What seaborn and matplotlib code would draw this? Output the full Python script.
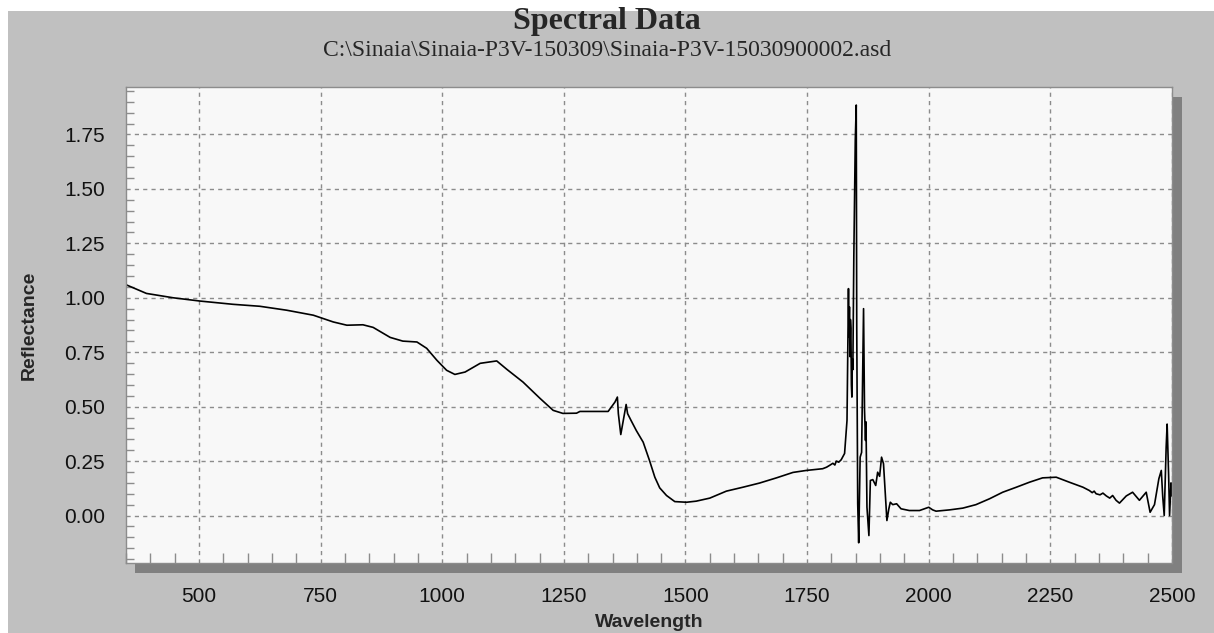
import numpy as np
import pandas as pd
import seaborn as sns
import matplotlib
matplotlib.use("Agg")
import matplotlib.pyplot as plt
from matplotlib.patches import Rectangle
from matplotlib.ticker import MultipleLocator, FormatStrFormatter

# spectrum
wavelength = [350, 392, 447, 502, 570, 625, 680, 735, 776, 804, 837, 858, 893, 919, 948,
              968, 989, 1009, 1026, 1047, 1078, 1112, 1133, 1166, 1201, 1228, 1248, 1276,
              1283, 1341, 1355, 1360, 1362, 1367, 1374, 1378, 1381, 1388, 1399, 1413, 1426,
              1437, 1447, 1461, 1478, 1502, 1522, 1550, 1584, 1618, 1652, 1687, 1721, 1748,
              1782, 1790, 1796, 1803, 1807, 1810, 1815, 1820, 1827, 1832, 1835, 1836, 1837,
              1838, 1839, 1840, 1841, 1842, 1843, 1844, 1846, 1849, 1851, 1852, 1854, 1856,
              1859, 1862, 1866, 1868, 1870, 1871, 1873, 1877, 1880, 1885, 1891, 1895, 1899,
              1903, 1907, 1911, 1914, 1918, 1921, 1926, 1934, 1943, 1960, 1981, 2000, 2008,
              2015, 2043, 2070, 2097, 2125, 2152, 2180, 2207, 2234, 2262, 2289, 2317, 2330,
              2336, 2340, 2344, 2352, 2358, 2365, 2372, 2378, 2385, 2392, 2406, 2419, 2433,
              2447, 2455, 2464, 2473, 2478, 2481, 2484, 2488, 2490, 2493, 2495, 2498, 2500]
reflectance = [1.06, 1.02, 1.00, 0.985, 0.970, 0.961, 0.943, 0.920, 0.889, 0.874, 0.876, 0.864,
               0.818, 0.801, 0.797, 0.768, 0.713, 0.667, 0.648, 0.659, 0.699, 0.710, 0.671,
               0.613, 0.538, 0.483, 0.469, 0.470, 0.478, 0.478, 0.521, 0.544, 0.468, 0.372,
               0.460, 0.510, 0.468, 0.437, 0.390, 0.337, 0.253, 0.176, 0.127, 0.092, 0.064,
               0.061, 0.066, 0.080, 0.112, 0.130, 0.149, 0.173, 0.198, 0.207, 0.215, 0.222,
               0.230, 0.240, 0.232, 0.250, 0.245, 0.256, 0.285, 0.437, 1.042, 0.820, 0.958,
               0.730, 0.900, 0.860, 0.600, 0.544, 0.720, 0.670, 1.188, 1.724, 1.885, 0.866,
               0.054, -0.125, 0.268, 0.290, 0.950, 0.483, 0.345, 0.430, 0.038, -0.092, 0.161,
               0.165, 0.138, 0.199, 0.180, 0.268, 0.238, 0.084, -0.023, 0.031, 0.061, 0.050,
               0.054, 0.031, 0.023, 0.023, 0.038, 0.026, 0.020, 0.026, 0.034, 0.050, 0.077,
               0.107, 0.130, 0.153, 0.173, 0.176, 0.153, 0.130, 0.115, 0.105, 0.112, 0.100,
               0.095, 0.103, 0.090, 0.080, 0.092, 0.070, 0.057, 0.090, 0.107, 0.070, 0.107,
               0.015, 0.050, 0.169, 0.207, 0.085, 0.000, 0.314, 0.420, 0.190, 0.000, 0.150,
               0.090]

title = "Spectral Data"
subtitle = "C:\\Sinaia\\Sinaia-P3V-150309\\Sinaia-P3V-15030900002.asd"

df = pd.DataFrame({"Wavelength": wavelength, "Reflectance": reflectance})

sns.set_style("white")
plt.rcParams["font.family"] = ["Liberation Sans", "DejaVu Sans"]

W, H = 1214, 633
fig = plt.figure(figsize=(W / 100, H / 100), dpi=100, facecolor="white")

# grey panel and drop shadow
fig.patches.append(Rectangle((8 / W, 0), 1, (H - 11) / H, transform=fig.transFigure,
                             facecolor="#c0c0c0", edgecolor="none", zorder=-2))
fig.patches.append(Rectangle((135 / W, (H - 573) / H), (1182 - 135) / W, (573 - 97) / H,
                             transform=fig.transFigure, facecolor="#808080",
                             edgecolor="none", zorder=-1))

ax = fig.add_axes([126 / W, (H - 563) / H, (1172 - 126) / W, (563 - 87) / H])
ax.set_facecolor("#f8f8f8")

sns.lineplot(data=df, x="Wavelength", y="Reflectance", sort=False, estimator=None,
             color="black", linewidth=1.2, ax=ax)

ax.set_xlim(350, 2500)
ax.set_ylim(-0.218, 1.968)
ax.xaxis.set_major_locator(MultipleLocator(250))
ax.xaxis.set_minor_locator(MultipleLocator(50))
ax.yaxis.set_major_locator(MultipleLocator(0.25))
ax.yaxis.set_minor_locator(MultipleLocator(0.05))
ax.yaxis.set_major_formatter(FormatStrFormatter("%.2f"))

ax.grid(True, which="major", color="#8c8c8c", linestyle=(0, (3, 3)), linewidth=1)
ax.tick_params(axis="x", which="major", direction="out", length=12, width=1,
               color="#8c8c8c", pad=5, labelsize=15, labelcolor="#111111")
ax.tick_params(axis="y", which="major", direction="out", length=6, width=1,
               color="#8c8c8c", pad=9, labelsize=15, labelcolor="#111111")
ax.tick_params(axis="x", which="minor", direction="in", length=7, width=1,
               color="#8c8c8c", bottom=True)
ax.tick_params(axis="y", which="minor", direction="in", length=6, width=1,
               color="#8c8c8c", left=True)

for side, sp in ax.spines.items():
    sp.set_color("#8c8c8c")
    sp.set_linewidth(1)

ax.set_xlabel("Wavelength", fontsize=14, fontweight="bold", labelpad=6)
ax.set_ylabel("Reflectance", fontsize=14, fontweight="bold", labelpad=19)

fig.text(0.5, (H - 21) / H, title, ha="center", va="center", fontsize=23,
         family="Liberation Serif", fontweight="bold")
fig.text(0.5, (H - 50) / H, subtitle, ha="center", va="center", fontsize=17,
         family="Liberation Serif")

fig.savefig("out.png", dpi=100, facecolor=fig.get_facecolor())
